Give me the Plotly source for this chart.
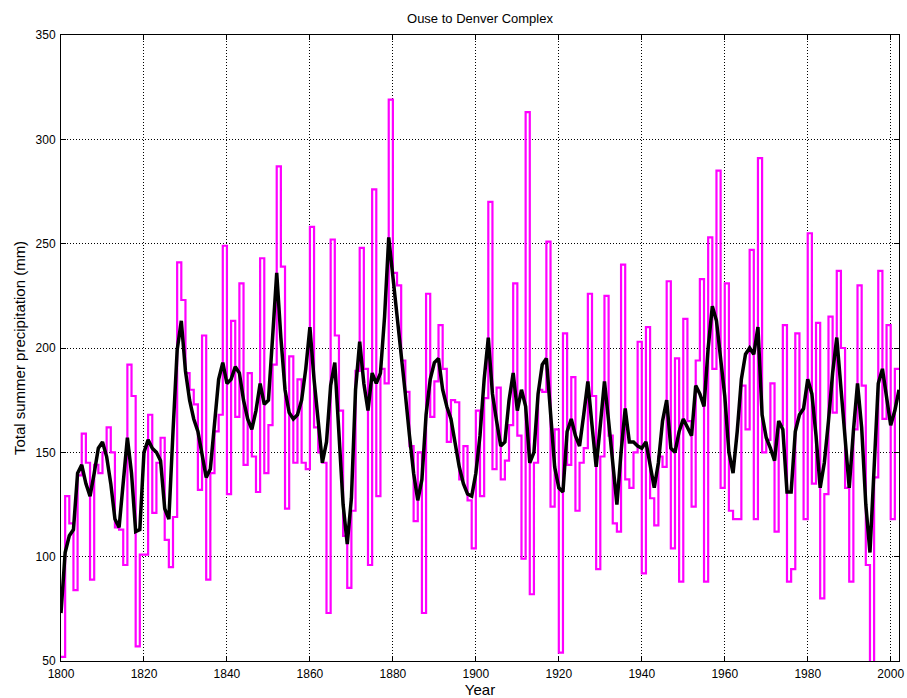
import plotly.graph_objects as go

# Annual total summer precipitation (mm), 1800-2001 (stairs end at 2002)
start_year = 1800
annual_precip = [
    52, 129, 116, 84, 139, 159, 145, 89, 144, 140,        # 1800s
    150, 162, 150, 114, 113, 96, 192, 177, 57, 101,       # 1810s
    101, 168, 121, 145, 157, 108, 95, 119, 241, 223,      # 1820s
    188, 180, 173, 132, 206, 89, 140, 160, 168, 249,      # 1830s
    130, 213, 167, 231, 144, 188, 148, 131, 243, 140,     # 1840s
    163, 192, 287, 239, 123, 196, 145, 185, 145, 142,     # 1850s
    258, 162, 150, 145, 73, 252, 206, 170, 110, 85,       # 1860s
    122, 189, 248, 190, 96, 276, 129, 190, 183, 319,      # 1870s
    236, 230, 194, 179, 153, 117, 150, 73, 226, 167,      # 1880s
    184, 211, 190, 155, 175, 174, 137, 153, 127, 104,     # 1890s
    170, 129, 176, 270, 142, 181, 137, 146, 163, 231,     # 1900s
    158, 99, 313, 82, 145, 180, 179, 251, 124, 161,       # 1910s
    54, 207, 144, 186, 122, 145, 152, 226, 177, 94,       # 1920s
    148, 225, 158, 116, 112, 240, 137, 133, 150, 203,     # 1930s
    92, 210, 128, 115, 148, 143, 232, 104, 195, 88,       # 1940s
    214, 165, 124, 194, 233, 88, 253, 190, 285, 133,      # 1950s
    231, 122, 118, 118, 182, 161, 247, 118, 291, 150,     # 1960s
    156, 183, 112, 163, 211, 88, 94, 207, 170, 118,       # 1970s
    255, 135, 212, 80, 130, 215, 169, 237, 200, 133,      # 1980s
    88, 161, 230, 182, 96, 48, 138, 237, 166, 211,        # 1990s
    118, 190,                                             # 2000-2001
]

# Smoothed series (black line), 1800-2002
smoothed_precip = [
    73, 102, 110, 113, 140, 144, 135, 129, 140, 152,      # 1800s
    155, 148, 135, 118, 114, 135, 157, 140, 112, 113,     # 1810s
    150, 156, 152, 150, 146, 123, 118, 160, 199, 213,     # 1820s
    189, 175, 166, 160, 150, 138, 142, 165, 185, 193,     # 1830s
    183, 185, 191, 188, 175, 166, 161, 170, 183, 173,     # 1840s
    175, 205, 236, 205, 180, 169, 166, 168, 175, 190,     # 1850s
    210, 185, 165, 145, 155, 182, 193, 160, 125, 106,     # 1860s
    128, 180, 203, 183, 170, 188, 183, 188, 215, 253,     # 1870s
    235, 215, 197, 178, 158, 140, 127, 137, 168, 185,     # 1880s
    193, 195, 180, 172, 166, 155, 143, 135, 130, 129,     # 1890s
    140, 158, 185, 205, 178, 165, 153, 155, 175, 188,     # 1900s
    170, 180, 172, 145, 150, 178, 192, 195, 166, 143,     # 1910s
    133, 131, 160, 166, 158, 153, 168, 184, 163, 143,     # 1920s
    163, 184, 165, 145, 125, 150, 171, 155, 155, 153,     # 1930s
    152, 155, 145, 133, 145, 165, 175, 152, 150, 160,     # 1940s
    166, 162, 158, 182, 178, 172, 200, 220, 213, 195,     # 1950s
    177, 150, 140, 160, 185, 197, 200, 197, 210, 168,     # 1960s
    157, 152, 146, 165, 161, 131, 131, 160, 168, 171,     # 1970s
    185, 178, 158, 133, 145, 165, 188, 205, 182, 155,     # 1980s
    133, 160, 183, 162, 125, 102, 145, 183, 190, 175,     # 1990s
    163, 170, 180,                                        # 2000-2002
]

x_ticks = list(range(1800, 2001, 20))
y_ticks = list(range(50, 351, 50))

years_stairs = list(range(start_year, start_year + len(annual_precip) + 1))
vals_stairs = annual_precip + [annual_precip[-1]]
years_smooth = list(range(start_year, start_year + len(smoothed_precip)))

fig = go.Figure()
fig.add_trace(go.Scatter(
    x=years_stairs, y=vals_stairs, mode="lines",
    line=dict(color="#FF00FF", width=2.2, shape="hv"),
    hoverinfo="skip", showlegend=False,
))
fig.add_trace(go.Scatter(
    x=years_smooth, y=smoothed_precip, mode="lines",
    line=dict(color="#000000", width=3.5),
    hoverinfo="skip", showlegend=False,
))

font_family = "Liberation Sans, Arial, Helvetica, sans-serif"
axis_common = dict(
    showgrid=True, gridcolor="#000000", gridwidth=1, griddash="1px,2px",
    showline=True, linecolor="#000000", linewidth=1, mirror="ticks",
    ticks="inside", ticklen=5, tickcolor="#000000", tickwidth=1,
    zeroline=False, automargin=False,
)

fig.update_layout(
    width=907, height=698,
    margin=dict(l=61, r=8, t=35, b=37),
    paper_bgcolor="white", plot_bgcolor="white",
    showlegend=False,
    title=dict(
        text="Ouse to Denver Complex",
        x=0.5, xref="paper", xanchor="center",
        y=1 - 18 / 698, yref="container", yanchor="middle",
        font=dict(family=font_family, size=13, color="#000000"),
    ),
    xaxis=dict(
        range=[1800, 2002], tickvals=x_ticks,
        tickfont=dict(family=font_family, size=12, color="#000000"),
        ticklabelstandoff=2,
        title=dict(text="Year", standoff=0,
                   font=dict(family=font_family, size=15, color="#000000")),
        **axis_common,
    ),
    yaxis=dict(
        range=[50, 350], tickvals=y_ticks,
        tickfont=dict(family=font_family, size=12, color="#000000"),
        ticklabelstandoff=2,
        title=dict(text="Total summer precipitation (mm)", standoff=6,
                   font=dict(family=font_family, size=15, color="#000000")),
        **axis_common,
    ),
)

fig.write_html("out.html")
